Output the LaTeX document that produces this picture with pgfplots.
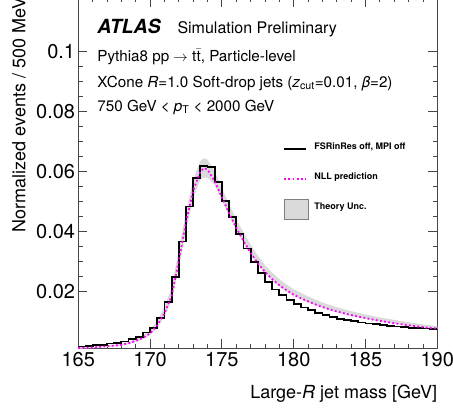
\documentclass[border=0pt]{standalone}
\usepackage{fontspec}
\setmainfont{TeX Gyre Heros}
\usepackage{pgfplots}
\pgfplotsset{compat=1.18}
\usepackage{pgfplotstable}

\definecolor{nllmag}{RGB}{255,0,255}
\definecolor{bandgray}{RGB}{218,218,218}
\definecolor{framegray}{RGB}{70,70,70}

\pgfplotstableread{
m v
165.0 0.0017
165.5 0.0018
166.0 0.0021
166.5 0.0023
167.0 0.0027
167.5 0.0030
168.0 0.0034
168.5 0.0041
169.0 0.0050
169.5 0.0064
170.0 0.0080
170.5 0.0113
171.0 0.0166
171.5 0.0248
172.0 0.0367
172.5 0.0484
173.0 0.0580
173.5 0.0618
174.0 0.0615
174.5 0.0565
175.0 0.0502
175.5 0.0449
176.0 0.0393
176.5 0.0344
177.0 0.0298
177.5 0.0263
178.0 0.0231
178.5 0.0207
179.0 0.0188
179.5 0.0172
180.0 0.0159
180.5 0.0147
181.0 0.0138
181.5 0.0129
182.0 0.0121
182.5 0.0115
183.0 0.0110
183.5 0.0105
184.0 0.0101
184.5 0.0097
185.0 0.0094
185.5 0.0091
186.0 0.0088
186.5 0.0086
187.0 0.0084
187.5 0.0082
188.0 0.0080
188.5 0.0079
189.0 0.0077
189.5 0.0076
190.0 0.0076
}\histtab

\pgfplotstableread{
m v
165.0 0.0012
165.5 0.0013
166.0 0.0014
166.5 0.0016
167.0 0.0018
167.5 0.0020
168.0 0.0023
168.5 0.0028
169.0 0.0036
169.5 0.0046
170.0 0.0061
170.5 0.0088
171.0 0.0128
171.5 0.0185
172.0 0.0303
172.5 0.0430
173.0 0.0537
173.5 0.0601
173.75 0.0612
174.0 0.0607
174.5 0.0568
175.0 0.0515
175.5 0.0462
176.0 0.0413
176.5 0.0370
177.0 0.0330
177.5 0.0295
178.0 0.0266
178.5 0.0242
179.0 0.0222
179.5 0.0205
180.0 0.0190
180.5 0.0178
181.0 0.0168
181.5 0.0158
182.0 0.0149
182.5 0.0141
183.0 0.0134
184.0 0.0122
185.0 0.0112
186.0 0.0103
187.0 0.0095
188.0 0.0088
189.0 0.0082
190.0 0.0077
}\nlltab

% theory band: upper edge forward, then lower edge backward (closed polygon)
\pgfplotstableread{
m b
165.0 0.0015
166.0 0.0017
167.0 0.0021
168.0 0.0027
168.5 0.0033
169.0 0.0042
169.5 0.0054
170.0 0.0072
170.5 0.0103
171.0 0.0150
171.5 0.0215
172.0 0.0340
172.5 0.0465
173.0 0.0575
173.5 0.0635
173.75 0.0645
174.0 0.0640
174.5 0.0600
175.0 0.0545
175.5 0.0492
176.0 0.0442
176.5 0.0398
177.0 0.0357
177.5 0.0320
178.0 0.0289
178.5 0.0263
179.0 0.0242
179.5 0.0224
180.0 0.0208
181.0 0.0184
182.0 0.0164
183.0 0.0148
184.0 0.0135
185.0 0.0124
186.0 0.0114
187.0 0.0106
188.0 0.0098
189.0 0.0091
190.0 0.0085
190.0 0.0075
189.0 0.0080
188.0 0.0086
187.0 0.0093
186.0 0.0100
185.0 0.0109
184.0 0.0119
183.0 0.0131
182.0 0.0146
181.0 0.0164
180.0 0.0186
179.5 0.0200
179.0 0.0216
178.5 0.0236
178.0 0.0260
177.5 0.0289
177.0 0.0323
176.5 0.0362
176.0 0.0405
175.5 0.0453
175.0 0.0505
174.5 0.0555
174.0 0.0580
173.75 0.0580
173.5 0.0575
173.0 0.0510
172.5 0.0405
172.0 0.0280
171.5 0.0170
171.0 0.0117
170.5 0.0080
170.0 0.0055
169.5 0.0041
169.0 0.0032
168.5 0.0025
168.0 0.0020
167.0 0.0016
166.0 0.0012
165.0 0.0010
}\bandtab

\begin{document}
\begin{tikzpicture}
\begin{axis}[
  scale only axis, width=359pt, height=350.6pt,
  xmin=165, xmax=190, ymin=0.00113, ymax=0.118,
  xtick={165,170,175,180,185,190}, minor x tick num=4,
  ytick={0.02,0.04,0.06,0.08,0.1}, minor y tick num=3,
  tick align=inside, xtick pos=both, ytick pos=both,
  xticklabel pos=lower, yticklabel pos=left,
  major tick length=9pt, minor tick length=4.5pt,
  axis line style={framegray, line width=0.8pt},
  every tick/.style={framegray, line width=0.8pt},
  scaled y ticks=false,
  /pgf/number format/assume math mode=true,
  yticklabel style={/pgf/number format/fixed, /pgf/number format/precision=2, inner xsep=3pt},
  tick label style={font=\fontsize{20}{24}\selectfont},
  xlabel={Large-\textit{R} jet mass [GeV]},
  ylabel={Normalized events / 500 MeV},
  label style={font=\fontsize{18}{22}\selectfont},
  xlabel style={at={(axis description cs:1,-0.1426)}, anchor=base east, inner sep=0pt},
  ylabel style={at={(axis description cs:-0.1471,1)}, anchor=base east, inner sep=0pt},
  legend style={
    at={(axis description cs:0.570,0.645)}, anchor=north west, yshift=-16pt,
    draw=none, fill=none, inner sep=0pt,
    font=\bfseries\fontsize{9}{11}\selectfont,
    row sep=8pt, column sep=6pt,
    nodes={inner sep=0pt, text height=11pt, text depth=11pt},
  },
  legend cell align=left,
  clip=true,
]
\addplot[fill=bandgray, draw=none, forget plot] table[x=m, y=b] {\bandtab} -- cycle;

\addplot[const plot, black, line width=1.8pt,
  legend image code/.code={\draw[black, line width=2pt] (0pt,0pt) -- (22pt,0pt);}]
  table[x=m, y=v] {\histtab};
\addlegendentry{FSRinRes off, MPI off}
\addplot[nllmag, line width=1.8pt, dash pattern=on 1.8pt off 2.4pt,
  legend image code/.code={\draw[nllmag, line width=2pt, dash pattern=on 1.8pt off 2.4pt] (0pt,0pt) -- (22pt,0pt);}]
  table[x=m, y=v] {\nlltab};
\addlegendentry{NLL prediction}
\addlegendimage{fill=bandgray, draw=black!50, line width=0.6pt,
  legend image code/.code={\draw[fill=bandgray, draw=black!50, line width=0.6pt] (0pt,-10pt) rectangle (24pt,10pt);}}
\addlegendentry{Theory Unc.}

\node[anchor=base west, inner sep=0pt, font=\fontsize{19.5}{22}\selectfont\bfseries\itshape] at (axis description cs:0.0529,0.8985) {ATLAS};
\node[anchor=base west, inner sep=0pt, font=\fontsize{16}{19}\selectfont] at (axis description cs:0.2758,0.8985) {Simulation Preliminary};
\node[anchor=base west, inner sep=0pt, font=\fontsize{15.2}{18}\selectfont] at (axis description cs:0.0529,0.8175) {Pythia8 pp $\rightarrow$ t\kern0.3pt$\bar{\hbox{t}}$, Particle-level};
\node[anchor=base west, inner sep=0pt, font=\fontsize{15.2}{18}\selectfont] at (axis description cs:0.0529,0.7444) {XCone \textit{R}=1.0 Soft-drop jets (\textit{z}\textsubscript{cut}=0.01, \textit{β}=2)};
\node[anchor=base west, inner sep=0pt, font=\fontsize{15.2}{18}\selectfont] at (axis description cs:0.0529,0.6768) {750 GeV < \textit{p}\textsubscript{T} < 2000 GeV};

\coordinate (bbsw) at (axis description cs:-0.21811,-0.18169);
\coordinate (bbne) at (axis description cs:1.04373,0.99344);
\end{axis}
\pgfresetboundingbox
\path[use as bounding box] (bbsw) rectangle (bbne);
\end{tikzpicture}
\end{document}
